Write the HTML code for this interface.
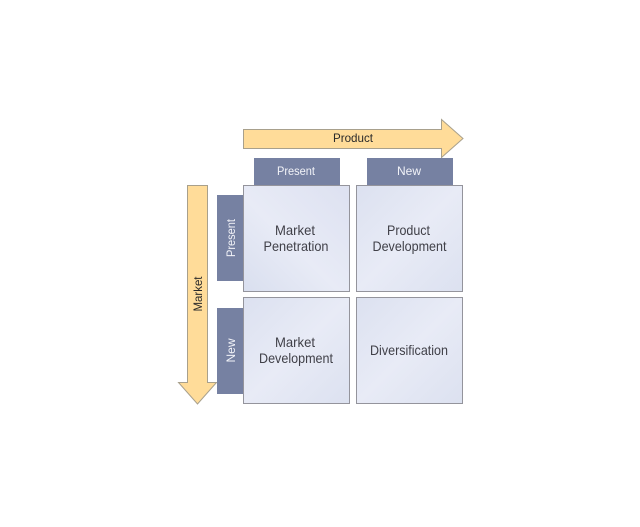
<!DOCTYPE html>
<html>
<head>
<meta charset="utf-8">
<style>
html,body{margin:0;padding:0;background:#fff;width:640px;height:527px;overflow:hidden}
svg{display:block}
text{font-family:"Liberation Sans",sans-serif;text-anchor:middle}
.m{font-size:14px;fill:#404048}
.t{font-size:12px;fill:#f2f3f8}
.a{font-size:12px;fill:#2a2a2a}
</style>
</head>
<body>
<svg width="640" height="527" viewBox="0 0 640 527" xmlns="http://www.w3.org/2000/svg">
<defs>
<linearGradient id="g1" x1="0" y1="1" x2="1" y2="0"><stop offset="0" stop-color="#d9dfef"/><stop offset="0.45" stop-color="#e8ebf6"/><stop offset="1" stop-color="#dde1f1"/></linearGradient>
<linearGradient id="g2" x1="0" y1="0" x2="1" y2="1"><stop offset="0" stop-color="#dce1f0"/><stop offset="0.5" stop-color="#e8ebf6"/><stop offset="1" stop-color="#dce1f0"/></linearGradient>
</defs>

<polygon points="243.5,129.5 441.5,129.5 441.5,119.5 463,138.5 441.5,157.5 441.5,148.5 243.5,148.5" fill="#ffdc99" stroke="#a8a08c" stroke-width="1"/>
<polygon points="187.5,185.5 207.5,185.5 207.5,382.5 216.5,382.5 197.5,404 178.5,382.5 187.5,382.5" fill="#ffdc99" stroke="#a8a08c" stroke-width="1"/>

<rect x="254.5" y="158.5" width="85" height="27" fill="#7681a2" stroke="#7681a2"/>
<rect x="367.5" y="158.5" width="85" height="27" fill="#7681a2" stroke="#7681a2"/>
<rect x="217.5" y="195.5" width="26" height="85" fill="#7681a2" stroke="#7681a2"/>
<rect x="217.5" y="308.5" width="26" height="85" fill="#7681a2" stroke="#7681a2"/>

<rect x="243.5" y="185.5" width="106" height="106" fill="url(#g1)" stroke="#94949c"/>
<rect x="356.5" y="185.5" width="106" height="106" fill="url(#g2)" stroke="#94949c"/>
<rect x="243.5" y="297.5" width="106" height="106" fill="url(#g2)" stroke="#94949c"/>
<rect x="356.5" y="297.5" width="106" height="106" fill="url(#g2)" stroke="#94949c"/>

<text class="a" x="353" y="142" textLength="40" lengthAdjust="spacingAndGlyphs">Product</text>
<text class="t" x="296" y="175" textLength="38" lengthAdjust="spacingAndGlyphs">Present</text>
<text class="t" x="409" y="175" textLength="24" lengthAdjust="spacingAndGlyphs">New</text>
<text class="t" transform="translate(235 238) rotate(-90)" textLength="38" lengthAdjust="spacingAndGlyphs">Present</text>
<text class="t" transform="translate(235 350.5) rotate(-90)" textLength="24" lengthAdjust="spacingAndGlyphs">New</text>
<text class="a" transform="translate(202 294) rotate(-90)" textLength="35" lengthAdjust="spacingAndGlyphs">Market</text>

<text class="m" x="295" y="235" textLength="40" lengthAdjust="spacingAndGlyphs">Market</text>
<text class="m" x="296" y="251" textLength="65" lengthAdjust="spacingAndGlyphs">Penetration</text>
<text class="m" x="408.5" y="235" textLength="43" lengthAdjust="spacingAndGlyphs">Product</text>
<text class="m" x="409.5" y="251" textLength="74" lengthAdjust="spacingAndGlyphs">Development</text>
<text class="m" x="295" y="347" textLength="40" lengthAdjust="spacingAndGlyphs">Market</text>
<text class="m" x="296" y="363" textLength="74" lengthAdjust="spacingAndGlyphs">Development</text>
<text class="m" x="409" y="355" textLength="78" lengthAdjust="spacingAndGlyphs">Diversification</text>
</svg>
</body>
</html>
